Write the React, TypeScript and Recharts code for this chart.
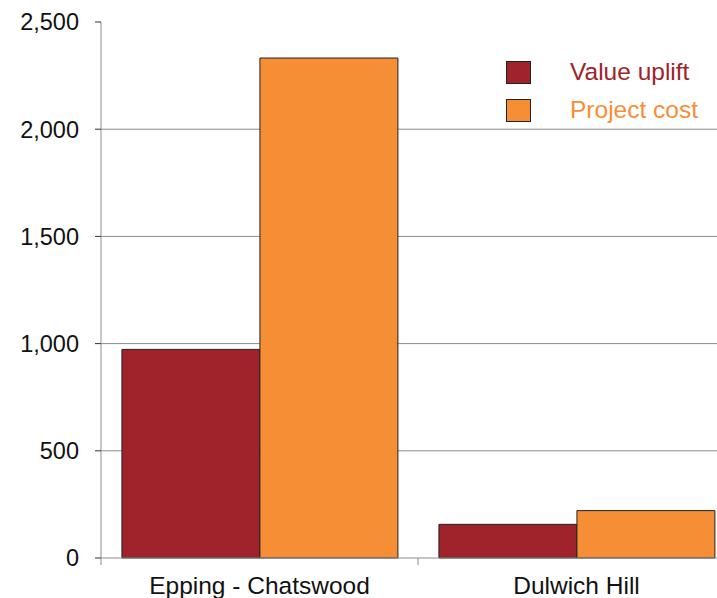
import { BarChart, Bar, XAxis, YAxis, CartesianGrid } from "recharts";

const categories = ["Epping - Chatswood", "Dulwich Hill"];
const valueUplift = [973, 157];
const projectCost = [2332, 221];
const yTicks = [0, 500, 1000, 1500, 2000, 2500];

const data = categories.map((name, i) => ({
  name,
  uplift: valueUplift[i],
  cost: projectCost[i],
}));

const FONT = '"Liberation Sans", Arial, Helvetica, sans-serif';
const RED = "#a0222a";
const ORANGE = "#f68e35";
const GREY = "#8c8c8c";

const XTick = (props: any) => {
  const { x, y, payload } = props;
  const half = payload && payload.offset ? payload.offset : 158.5;
  return (
    <g>
      <line x1={x - half} y1={y} x2={x - half} y2={y + 7} stroke={GREY} />
      <text
        x={x}
        y={y + 36}
        textAnchor="middle"
        fill="#111"
        fontSize={24.5}
        fontFamily={FONT}
      >
        {payload.value}
      </text>
    </g>
  );
};

const LegendBox = () => {
  const items = [
    { label: "Value uplift", color: RED },
    { label: "Project cost", color: ORANGE },
  ];
  return (
    <div
      style={{
        position: "absolute",
        top: 53,
        left: 506,
        fontFamily: FONT,
      }}
    >
      {items.map((it) => (
        <div
          key={it.label}
          style={{ display: "flex", alignItems: "center", height: 38 }}
        >
          <div
            style={{
              width: 23,
              height: 21,
              background: it.color,
              border: "1px solid #222",
            }}
          />
          <span style={{ marginLeft: 39, fontSize: 24.5, color: it.color }}>
            {it.label}
          </span>
        </div>
      ))}
    </div>
  );
};

export default function App() {
  return (
    <div
      style={{
        position: "fixed",
        left: 0,
        top: 0,
        width: 717,
        height: 598,
        overflow: "hidden",
        background: "#fff",
      }}
    >
      <BarChart
        width={735}
        height={598}
        data={data}
        margin={{ top: 22, right: 0, left: 0, bottom: 0 }}
        barCategoryGap="6.6%"
        barGap={0}
      >
        <CartesianGrid
          horizontal={true}
          vertical={false}
          stroke={GREY}
          horizontalValues={[500, 1000, 1500, 2000]}
        />
        <XAxis
          dataKey="name"
          height={40}
          axisLine={{ stroke: GREY }}
          tickLine={false}
          tickSize={0}
          tickMargin={0}
          interval={0}
          tick={<XTick />}
        />
        <YAxis
          width={101}
          domain={[0, 2500]}
          ticks={yTicks}
          interval={0}
          axisLine={{ stroke: GREY }}
          tickLine={{ stroke: "#333" }}
          tickSize={6}
          tickMargin={16}
          tickFormatter={(v: number) => v.toLocaleString("en-US")}
          tick={{ fill: "#111", fontSize: 23.5, fontFamily: FONT }}
        />
        <Bar
          dataKey="uplift"
          fill={RED}
          stroke="#222"
          strokeWidth={1}
          isAnimationActive={false}
        />
        <Bar
          dataKey="cost"
          fill={ORANGE}
          stroke="#222"
          strokeWidth={1}
          isAnimationActive={false}
        />
      </BarChart>
      <LegendBox />
    </div>
  );
}
